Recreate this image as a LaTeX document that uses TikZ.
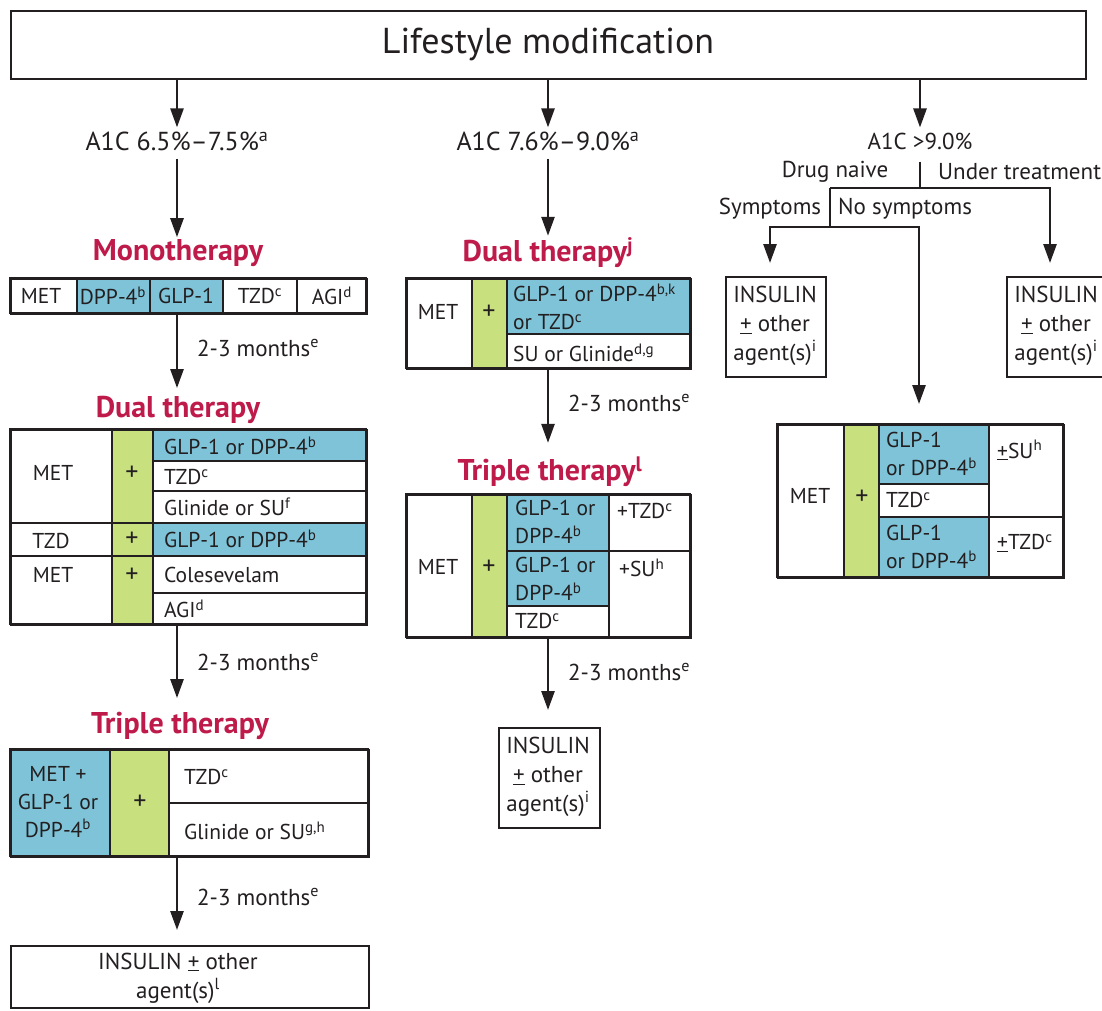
\documentclass[tikz,border=0pt]{standalone}
\usepackage{fontspec}
\setmainfont{PT Sans}
\usetikzlibrary{arrows.meta,positioning}
\definecolor{ink}{HTML}{231F20}
\definecolor{titlered}{HTML}{BE1A4A}
\definecolor{agentblue}{HTML}{7EC3D8}
\definecolor{plusgreen}{HTML}{C8E07E}
\begin{document}
\begin{tikzpicture}[x=1pt,y=-1pt,
    cell/.style={draw=ink,line width=1.6pt},
    frame/.style={draw=ink,line width=1.8pt,inner sep=0pt,anchor=north west},
    txt/.style={text=ink,inner sep=0pt,font=\fontsize{21.5}{28}\selectfont},
    ltxt/.style={txt,anchor=west,align=left},
    ctxt/.style={txt,align=center},
    big/.style={font=\fontsize{23}{29}\selectfont},
    plus/.style={txt,font=\fontsize{26}{28}\selectfont},
    head/.style={text=titlered,inner sep=0pt,font=\fontsize{30}{34}\selectfont\bfseries},
    arr/.style={draw=ink,line width=2.6pt,-{Triangle[length=19pt,width=13pt]}},
    stem/.style={draw=ink,line width=2.6pt}]
    \useasboundingbox (0,0) rectangle (1102,1010);
    \fill[white] (0,0) rectangle (1102,1010);

    % top box and the three A1C levels
    \node[frame,minimum width=1075pt,minimum height=68pt] (life) at (10,10) {};
    \node[txt,font=\fontsize{36}{40}\selectfont] (lifeTxt) at (548,44) {Lifestyle modification};
    \node[txt,font=\fontsize{26}{30}\selectfont] (lowA) at (177,141) {A1C 6.5\%--7.5\%\textsuperscript{a}};
    \node[txt,font=\fontsize{26}{30}\selectfont] (midA) at (548,141) {A1C 7.6\%--9.0\%\textsuperscript{a}};
    \node[txt,big] (highA) at (920,141) {A1C >9.0\%};
    \draw[arr] (life.south -| lowA) -- ([yshift=4pt]lowA.north);
    \draw[arr] (life.south -| midA) -- ([yshift=4pt]midA.north);
    \draw[arr] (life.south -| highA) -- ([yshift=5pt]highA.north);

    % left column: monotherapy
    \node[head] (monoH) at (178,253) {Monotherapy};
    \draw[arr] ([yshift=-8pt]lowA.south) -- ([yshift=2pt]monoH.north -| lowA);
    \draw[cell] (10,278) rectangle (77,313);
    \draw[cell,fill=agentblue] (77,278) rectangle (150,313);
    \draw[cell,fill=agentblue] (150,278) rectangle (223,313);
    \draw[cell] (223,278) rectangle (297,313);
    \draw[cell] (297,278) rectangle (366,313);
    \node[txt] (monoMet) at (41,296) {MET};
    \node[txt] (monoDpp) at (113,296) {DPP-4\textsuperscript{b}};
    \node[txt] (monoGlp) at (186,296) {GLP-1};
    \node[txt] (monoTzd) at (260,296) {TZD\textsuperscript{c}};
    \node[txt] (monoAgi) at (332,296) {AGI\textsuperscript{d}};
    \node[frame,minimum width=356pt,minimum height=35pt] (monoT) at (10,278) {};

    % left column: dual therapy
    \node[head] (dualH) at (178,410) {Dual therapy};
    \draw[arr] (monoT.south -| lowA) -- ([yshift=8pt]dualH.north -| lowA);
    \node[ltxt,big] (wait1) at (197,348) {2-3 months\textsuperscript{e}};
    \draw[cell] (10,429) rectangle (112,523);
    \draw[cell] (10,523) rectangle (112,556);
    \draw[cell] (10,556) rectangle (112,624);
    \draw[cell,fill=plusgreen] (112,429) rectangle (153,523);
    \draw[cell,fill=plusgreen] (112,523) rectangle (153,556);
    \draw[cell,fill=plusgreen] (112,556) rectangle (153,624);
    \draw[cell,fill=agentblue] (153,429) rectangle (366,461);
    \draw[cell] (153,461) rectangle (366,491);
    \draw[cell] (153,491) rectangle (366,523);
    \draw[cell,fill=agentblue] (153,523) rectangle (366,556);
    \draw[cell] (153,556) rectangle (366,593);
    \draw[cell] (153,593) rectangle (366,624);
    \node[txt] (dualMet) at (53,473) {MET};
    \node[txt] (dualTzd) at (51,541) {TZD};
    \node[txt] (dualMet2) at (53,575) {MET};
    \node[plus] (dualPlus) at (132,473) {+};
    \node[plus] (dualPlus2) at (132,539) {+};
    \node[plus] (dualPlus3) at (132,575) {+};
    \node[ltxt] (dualGlp) at (164,446) {GLP-1 or DPP-4\textsuperscript{b}};
    \node[ltxt] (dualTzdc) at (164,477) {TZD\textsuperscript{c}};
    \node[ltxt] (dualGlin) at (164,507) {Glinide or SU\textsuperscript{f}};
    \node[ltxt] (dualGlp2) at (164,539) {GLP-1 or DPP-4\textsuperscript{b}};
    \node[ltxt] (dualCol) at (164,575) {Colesevelam};
    \node[ltxt] (dualAgi) at (164,609) {AGI\textsuperscript{d}};
    \node[frame,minimum width=356pt,minimum height=195pt] (dualT) at (10,429) {};

    % left column: triple therapy
    \node[head] (tripleH) at (180,726) {Triple therapy};
    \draw[arr] (dualT.south -| lowA) -- ([yshift=14pt]tripleH.north -| lowA);
    \node[ltxt,big] (wait2) at (197,662) {2-3 months\textsuperscript{e}};
    \draw[cell,fill=agentblue] (10,749) rectangle (110,856);
    \draw[cell,fill=plusgreen] (110,749) rectangle (169,856);
    \draw[cell] (169,749) rectangle (368,803);
    \draw[cell] (169,803) rectangle (368,856);
    \node[ctxt] (tripleMet) at (58,802) {MET +\\GLP-1 or\\DPP-4\textsuperscript{b}};
    \node[plus] (triplePlus) at (140,802) {+};
    \node[ltxt] (tripleTzd) at (184,777) {TZD\textsuperscript{c}};
    \node[ltxt] (tripleGlin) at (184,831) {Glinide or SU\textsuperscript{g,h}};
    \node[frame,minimum width=358pt,minimum height=107pt] (tripleT) at (10,749) {};

    % left column: insulin
    \node[frame,minimum width=358pt,minimum height=62pt] (insT) at (10,945) {};
    \node[ctxt,big] (insTxt) at (178,978) {INSULIN \underline{+} other\\agent(s)\textsuperscript{l}};
    \draw[arr] (tripleT.south -| lowA) -- ([yshift=15pt]insT.north -| lowA);
    \node[ltxt,big] (wait3) at (197,897) {2-3 months\textsuperscript{e}};

    % middle column: dual therapy
    \node[head] (dual2H) at (548,253) {Dual therapy\textsuperscript{j}};
    \draw[arr] ([yshift=-8pt]midA.south) -- ([yshift=2pt]dual2H.north -| midA);
    \draw[cell] (406,278) rectangle (472,368);
    \draw[cell,fill=plusgreen] (472,278) rectangle (507,368);
    \draw[cell,fill=agentblue] (507,278) rectangle (690,334);
    \draw[cell] (507,334) rectangle (690,368);
    \node[txt] (dual2Met) at (438,312) {MET};
    \node[plus] (dual2Plus) at (489,312) {+};
    \node[ltxt] (dual2Glp) at (513,307) {GLP-1 or DPP-4\textsuperscript{b,k}\\or TZD\textsuperscript{c}};
    \node[ltxt] (dual2Su) at (513,353) {SU or Glinide\textsuperscript{d,g}};
    \node[frame,minimum width=284pt,minimum height=90pt] (dual2T) at (406,278) {};

    % middle column: triple therapy
    \node[head] (triple2H) at (550,472) {Triple therapy\textsuperscript{l}};
    \draw[arr] (dual2T.south -| midA) -- ([yshift=14pt]triple2H.north -| midA);
    \node[ltxt,big] (wait4) at (568,403) {2-3 months\textsuperscript{e}};
    \draw[cell] (406,494) rectangle (472,637);
    \draw[cell,fill=plusgreen] (472,494) rectangle (507,637);
    \draw[cell,fill=agentblue] (507,494) rectangle (609,551);
    \draw[cell,fill=agentblue] (507,551) rectangle (609,606);
    \draw[cell] (507,606) rectangle (609,637);
    \draw[cell] (609,494) rectangle (690,551);
    \draw[cell] (609,551) rectangle (690,637);
    \node[txt] (triple2Met) at (438,567) {MET};
    \node[plus] (triple2Plus) at (489,567) {+};
    \node[ltxt] (triple2Glp) at (515,522) {GLP-1 or\\DPP-4\textsuperscript{b}};
    \node[ltxt] (triple2Glp2) at (515,579) {GLP-1 or\\DPP-4\textsuperscript{b}};
    \node[ltxt] (triple2Tzd) at (515,621) {TZD\textsuperscript{c}};
    \node[ltxt] (triple2AddT) at (617,511) {+TZD\textsuperscript{c}};
    \node[ltxt] (triple2AddS) at (619,568) {+SU\textsuperscript{h}};
    \node[frame,minimum width=284pt,minimum height=143pt] (triple2T) at (406,494) {};

    % middle column: insulin
    \node[frame,minimum width=101pt,minimum height=100pt] (ins2) at (498,727) {};
    \node[ctxt,big] (ins2Txt) at (548,777) {INSULIN\\\underline{+} other\\agent(s)\textsuperscript{i}};
    \draw[arr] (triple2T.south -| midA) -- ([yshift=17pt]ins2.north -| midA);
    \node[ltxt,big] (wait5) at (568,672) {2-3 months\textsuperscript{e}};

    % right column: branches
    \coordinate (naive) at (830,188);
    \coordinate (under) at (1050,188);
    \coordinate (symp) at (770,227);
    \coordinate (nosymp) at (919,227);
    \node[txt,big] (naiveTxt) at (835,172) {Drug naive};
    \node[ltxt,big] (underTxt) at (938,172) {Under treatment};
    \node[txt,big] (sympTxt) at (770,209) {Symptoms};
    \node[ltxt,big] (nosympTxt) at (838,209) {No symptoms};
    \node[frame,minimum width=100pt,minimum height=100pt] (insS) at (725,276) {};
    \node[ctxt,big] (insSTxt) at (775,326) {INSULIN\\\underline{+} other\\agent(s)\textsuperscript{i}};
    \node[frame,minimum width=104pt,minimum height=100pt] (insU) at (1006,276) {};
    \node[ctxt,big] (insUTxt) at (1056,326) {INSULIN\\\underline{+} other\\agent(s)\textsuperscript{i}};
    \draw[stem] ([yshift=-12pt]highA.south) -- (highA.south |- naive);
    \draw[arr] (naive) -- (under) -- ([yshift=13pt]under |- insU.north);
    \draw[stem] (naive) -- (naive |- symp);
    \draw[arr] (naive |- symp) -- (symp) -- ([yshift=13pt]symp |- insS.north);

    % right column: combination table
    \draw[cell] (777,424) rectangle (844,577);
    \draw[cell,fill=plusgreen] (844,424) rectangle (879,577);
    \draw[cell,fill=agentblue] (879,424) rectangle (989,484);
    \draw[cell] (879,484) rectangle (989,517);
    \draw[cell,fill=agentblue] (879,517) rectangle (989,577);
    \draw[cell] (989,424) rectangle (1063,517);
    \draw[cell] (989,517) rectangle (1063,577);
    \node[txt] (comboMet) at (810,496) {MET};
    \node[plus] (comboPlus) at (862,497) {+};
    \node[ltxt] (comboGlp) at (886,454) {GLP-1\\or DPP-4\textsuperscript{b}};
    \node[ltxt] (comboTzd) at (886,500) {TZD\textsuperscript{c}};
    \node[ltxt] (comboGlp2) at (886,547) {GLP-1\\or DPP-4\textsuperscript{b}};
    \node[ltxt] (comboSu) at (997,450) {\underline{+}SU\textsuperscript{h}};
    \node[ltxt] (comboTzd2) at (997,543) {\underline{+}TZD\textsuperscript{c}};
    \node[frame,minimum width=286pt,minimum height=153pt] (comboT) at (777,424) {};
    \draw[arr] (naive |- symp) -- (nosymp) -- ([yshift=20pt]nosymp |- comboT.north);
\end{tikzpicture}
\end{document}
